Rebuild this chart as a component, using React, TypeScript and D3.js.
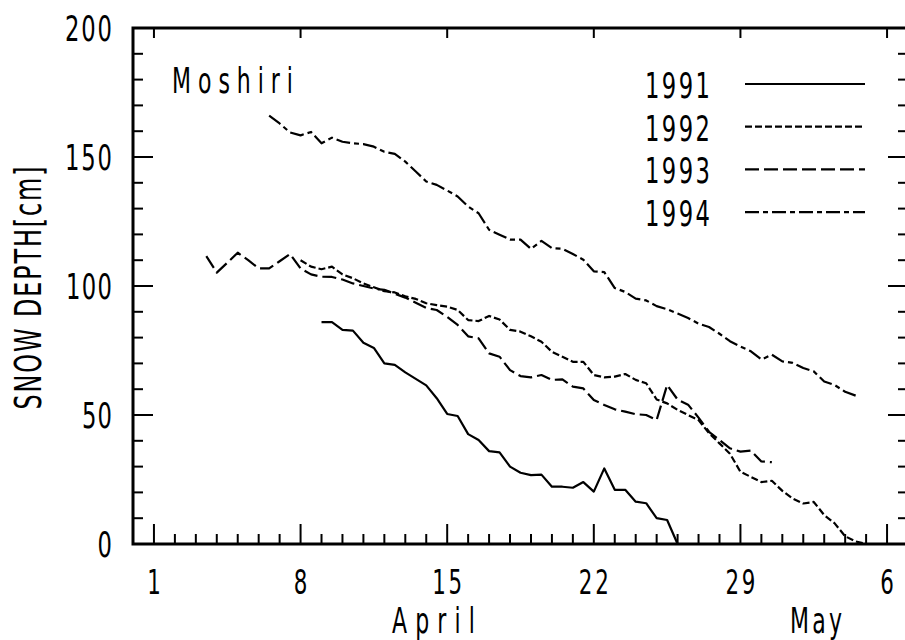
import React from "react";
import * as d3 from "d3";

// snow depth [cm], twice-daily readings (every half day), April 1 = day 1
const years = ["1991", "1992", "1993", "1994"];
const startDays = [9, 8, 3.5, 6.5];

const depth1991 = [86, 86, 83, 82.7, 78, 76, 70, 69.4, 66.5, 64, 61.5, 56.5, 50.4, 49.6, 42.6, 40.3, 36, 35.5, 30, 27.6, 26.7, 26.9, 22.2, 22.2, 21.8, 24, 20.3, 29.3, 21, 21, 16.4, 15.8, 10, 9.3, 0];
const depth1992 = [110, 107.5, 106.5, 107.5, 104.5, 103, 101, 99.5, 98, 97.5, 96, 95, 93.3, 92.6, 92, 90.7, 86.8, 86.4, 88.4, 87, 83, 82.3, 80.5, 78.4, 74.5, 72.6, 70.6, 70.6, 65.5, 64.6, 64.9, 65.9, 63.6, 62.3, 56, 54.5, 52, 50, 48, 43, 39, 35, 28, 26, 24, 24.5, 20.6, 17.6, 15.7, 16.3, 11.2, 8, 3, 1, 0];
const depth1993 = [111.6, 105.2, 109, 112.9, 110, 106.8, 106.8, 109.6, 112.4, 106.8, 104.5, 103.6, 103.5, 102.5, 101, 100, 99, 98.5, 97, 95.5, 93.5, 91.5, 90.7, 88, 84.9, 80.5, 79.7, 73.9, 72.6, 67.4, 65.1, 64.6, 65.5, 63.6, 63.8, 61, 60.3, 55.8, 53.9, 52.2, 51.3, 50.3, 50, 48.1, 61.6, 56, 54, 49, 43.5, 40.3, 37.1, 35.8, 36.2, 32, 31.7];
const depth1994 = [166, 163, 159.5, 158.4, 159.7, 155.3, 157.5, 155.9, 155.3, 155, 154, 152, 151.2, 148.2, 144.4, 140.5, 139.2, 137, 134.7, 130.8, 128.2, 121.8, 119.9, 118, 118, 114.4, 117.5, 114.7, 114.4, 112.4, 110.2, 105.7, 105.4, 99.2, 97.7, 95.1, 94.4, 92.2, 91, 89.3, 87.6, 85.4, 84.1, 81.5, 78.6, 76.5, 74.7, 71.5, 73.4, 70.8, 70.2, 68.2, 66.9, 63, 61.6, 59, 57.5];
const depths = [depth1991, depth1992, depth1993, depth1994];

const xTickDays = [1, 8, 15, 22, 29, 36];
const xTickLabels = ["1", "8", "15", "22", "29", "6"];
const yTicks = [0, 50, 100, 150, 200];

const dashes = ["none", "7,3", "14,5", "14,4,5,4"];
const font = "'Liberation Sans Narrow', 'DejaVu Sans Condensed', 'Arial Narrow', sans-serif";

const W = 905;
const H = 640;
const left = 133, right = 908, top = 28, bottom = 544;

// narrow, widely spaced lettering like the plotter font of the original
function NText({ x, y, size, width, anchor = "start", rotate = false, children }: any) {
  const sx = 0.7;
  const str = String(children);
  return (
    <g transform={`translate(${x},${y})${rotate ? " rotate(-90)" : ""} scale(${sx},1)`}>
      <text
        x={0}
        y={0}
        textAnchor={anchor}
        fontSize={size}
        {...(str.length > 1 && width ? { textLength: width / sx, lengthAdjust: "spacing" } : {})}
      >
        {str}
      </text>
    </g>
  );
}

export default function App() {
  const x = d3.scaleLinear().domain([0, 37]).range([left, right]);
  const y = d3.scaleLinear().domain([0, 200]).range([bottom, top]);

  const paths = depths.map((vals, k) =>
    d3
      .line<number>()
      .x((_, i) => x(startDays[k] + i * 0.5))
      .y(d => y(d))(vals)
  );

  const minorX = d3.range(1, 37);
  const minorY = d3.range(10, 200, 10);
  const yLabelW: Record<number, number> = { 200: 47, 150: 47, 100: 46, 50: 30, 0: 14 };

  return (
    <svg
      width={W}
      height={H}
      style={{ position: "absolute", left: 0, top: 0, background: "#fff" }}
      fontFamily={font}
      fill="#000"
    >
      {/* frame */}
      <rect x={left} y={top} width={right - left} height={bottom - top} fill="none" stroke="#000" strokeWidth={3} />

      {/* bottom ticks */}
      {minorX.map(d => (
        <line key={"bx" + d} x1={x(d)} x2={x(d)} y1={bottom} y2={bottom - (xTickDays.includes(d) ? 20 : 10)} stroke="#000" strokeWidth={2} />
      ))}
      {/* top ticks (major only) */}
      {xTickDays.map(d => (
        <line key={"tx" + d} x1={x(d)} x2={x(d)} y1={top} y2={top + 10} stroke="#000" strokeWidth={2} />
      ))}
      {/* left / right ticks */}
      {minorY.map(v => {
        const len = v % 50 === 0 ? 20 : 10;
        return (
          <g key={"yt" + v}>
            <line x1={left} x2={left + len} y1={y(v)} y2={y(v)} stroke="#000" strokeWidth={2} />
            <line x1={right} x2={right - len} y1={y(v)} y2={y(v)} stroke="#000" strokeWidth={2} />
          </g>
        );
      })}

      {/* y tick labels */}
      {yTicks.map(v => (
        <NText key={"yl" + v} x={112} y={y(v) + 13} anchor="end" size={36} width={yLabelW[v]}>
          {v}
        </NText>
      ))}
      {/* x tick labels */}
      {xTickDays.map((d, i) => (
        <NText key={"xl" + d} x={x(d)} y={594} anchor="middle" size={34} width={30}>
          {xTickLabels[i]}
        </NText>
      ))}
      <NText x={392} y={633} size={35} width={83}>April</NText>
      <NText x={790} y={633} size={35} width={52}>May</NText>

      {/* y axis title */}
      <NText x={41} y={288} rotate anchor="middle" size={38} width={243}>
        SNOW DEPTH[cm]
      </NText>

      <NText x={172} y={93} size={35} width={121}>Moshiri</NText>

      {/* data */}
      {paths.map((p, k) => (
        <path key={years[k]} d={p || ""} fill="none" stroke="#000" strokeWidth={2.2} strokeDasharray={dashes[k]} strokeLinejoin="round" />
      ))}

      {/* legend */}
      {years.map((yr, k) => (
        <g key={"lg" + yr} transform={`translate(0, ${k * 42.7})`}>
          <NText x={645} y={98} size={36} width={65}>{yr}</NText>
          <line x1={745} x2={865} y1={84} y2={84} stroke="#000" strokeWidth={2.2} strokeDasharray={dashes[k]} />
        </g>
      ))}
    </svg>
  );
}
